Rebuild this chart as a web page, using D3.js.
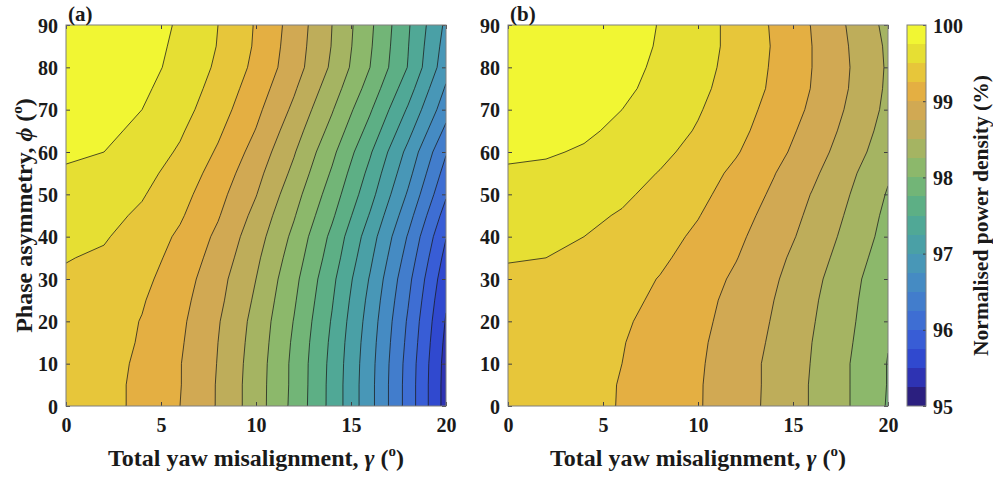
<!DOCTYPE html>
<html>
<head>
<meta charset="utf-8">
<script src="https://cdn.jsdelivr.net/npm/d3@7"></script>
<style>
  body { margin: 0; background: #fff; }
  svg text { font-family: "Liberation Serif", "Times New Roman", serif; font-weight: bold; fill: #1a1a1a; }
</style>
</head>
<body>
<svg id="chart" width="993" height="477"></svg>
<script>
"use strict";

// Grid the contours are built on (degrees).
var yawDeg = [0, 2, 4, 6, 8, 10, 12, 14, 16, 18, 20];
var phaseDeg = [0, 5, 10, 15, 20, 25, 30, 35, 40, 45, 50, 55, 60, 65, 70, 75, 80, 85, 90];

// Normalised power density (%), one row per phase value.
var powerA = [
  [99.36, 99.32, 99.20, 99.00, 98.73, 98.37, 97.93, 97.42, 96.83, 96.15, 95.40],
  [99.36, 99.32, 99.20, 99.01, 98.73, 98.37, 97.94, 97.42, 96.83, 96.15, 95.40],
  [99.37, 99.33, 99.21, 99.01, 98.74, 98.38, 97.94, 97.43, 96.84, 96.16, 95.41],
  [99.38, 99.34, 99.23, 99.03, 98.75, 98.40, 97.96, 97.45, 96.86, 96.19, 95.44],
  [99.40, 99.36, 99.24, 99.05, 98.77, 98.42, 97.99, 97.48, 96.89, 96.22, 95.48],
  [99.43, 99.39, 99.27, 99.08, 98.81, 98.46, 98.03, 97.52, 96.93, 96.27, 95.53],
  [99.47, 99.43, 99.31, 99.12, 98.84, 98.50, 98.07, 97.56, 96.98, 96.32, 95.59],
  [99.51, 99.47, 99.36, 99.16, 98.90, 98.55, 98.13, 97.63, 97.05, 96.40, 95.67],
  [99.56, 99.52, 99.40, 99.21, 98.95, 98.61, 98.19, 97.69, 97.12, 96.48, 95.76],
  [99.61, 99.57, 99.46, 99.28, 99.02, 98.68, 98.27, 97.79, 97.23, 96.60, 95.89],
  [99.67, 99.63, 99.52, 99.34, 99.08, 98.76, 98.35, 97.88, 97.34, 96.72, 96.03],
  [99.72, 99.69, 99.58, 99.40, 99.15, 98.83, 98.44, 97.97, 97.43, 96.83, 96.15],
  [99.79, 99.75, 99.64, 99.47, 99.22, 98.91, 98.52, 98.06, 97.53, 96.93, 96.27],
  [99.84, 99.80, 99.70, 99.53, 99.29, 98.99, 98.61, 98.17, 97.66, 97.08, 96.44],
  [99.88, 99.85, 99.75, 99.59, 99.36, 99.06, 98.70, 98.27, 97.78, 97.22, 96.60],
  [99.92, 99.89, 99.79, 99.64, 99.41, 99.13, 98.78, 98.37, 97.90, 97.36, 96.72],
  [99.95, 99.92, 99.83, 99.68, 99.46, 99.19, 98.86, 98.46, 98.00, 97.49, 96.85],
  [99.98, 99.95, 99.85, 99.70, 99.49, 99.22, 98.88, 98.49, 98.03, 97.51, 96.90],
  [99.99, 99.96, 99.87, 99.72, 99.50, 99.23, 98.90, 98.50, 98.05, 97.53, 96.95]
];

var powerB = [
  [99.36, 99.35, 99.30, 99.24, 99.14, 99.02, 98.86, 98.69, 98.48, 98.25, 97.98],
  [99.36, 99.35, 99.31, 99.24, 99.14, 99.02, 98.87, 98.69, 98.48, 98.25, 97.99],
  [99.37, 99.36, 99.31, 99.25, 99.15, 99.03, 98.87, 98.69, 98.49, 98.25, 97.99],
  [99.38, 99.37, 99.33, 99.26, 99.16, 99.04, 98.89, 98.71, 98.50, 98.27, 98.01],
  [99.40, 99.39, 99.35, 99.28, 99.18, 99.06, 98.91, 98.73, 98.52, 98.29, 98.03],
  [99.43, 99.42, 99.37, 99.31, 99.21, 99.08, 98.93, 98.75, 98.54, 98.31, 98.04],
  [99.47, 99.45, 99.41, 99.34, 99.24, 99.12, 98.96, 98.78, 98.57, 98.33, 98.07],
  [99.51, 99.50, 99.45, 99.38, 99.29, 99.16, 99.01, 98.82, 98.61, 98.38, 98.11],
  [99.56, 99.54, 99.50, 99.43, 99.33, 99.21, 99.05, 98.87, 98.66, 98.42, 98.16],
  [99.61, 99.60, 99.55, 99.48, 99.38, 99.26, 99.10, 98.91, 98.70, 98.46, 98.19],
  [99.67, 99.65, 99.61, 99.54, 99.43, 99.31, 99.15, 98.96, 98.74, 98.50, 98.23],
  [99.72, 99.71, 99.66, 99.59, 99.49, 99.36, 99.20, 99.01, 98.80, 98.55, 98.28],
  [99.79, 99.77, 99.73, 99.66, 99.55, 99.43, 99.27, 99.08, 98.86, 98.62, 98.35],
  [99.84, 99.82, 99.78, 99.71, 99.61, 99.48, 99.32, 99.13, 98.91, 98.67, 98.40],
  [99.88, 99.87, 99.82, 99.75, 99.65, 99.52, 99.36, 99.17, 98.96, 98.71, 98.44],
  [99.92, 99.91, 99.86, 99.79, 99.69, 99.56, 99.39, 99.21, 98.99, 98.74, 98.46],
  [99.95, 99.94, 99.89, 99.82, 99.71, 99.58, 99.42, 99.22, 99.00, 98.75, 98.47],
  [99.98, 99.96, 99.91, 99.84, 99.73, 99.60, 99.43, 99.23, 99.00, 98.74, 98.46],
  [99.99, 99.97, 99.93, 99.85, 99.74, 99.60, 99.43, 99.22, 98.99, 98.72, 98.43]
];

// Contour levels (lower edge of each filled band) and their colours.
var levels = [95, 95.25, 95.5, 95.75, 96, 96.25, 96.5, 96.75, 97, 97.25,
              97.5, 97.75, 98, 98.25, 98.5, 98.75, 99, 99.25, 99.5, 99.75];
var bandColours = ["#2b1f7f", "#2e33b3", "#3049cf", "#385dd6", "#3e6ed3", "#427dcc",
                   "#458bc3", "#4897b7", "#4aa0a6", "#50a896", "#5daf85", "#72b577",
                   "#8cb86b", "#a5b462", "#bead5a", "#d1a953", "#e4af42", "#e7c63a",
                   "#e6df33", "#f1f633"];

var xTicks = [0, 5, 10, 15, 20];
var yTicks = [0, 10, 20, 30, 40, 50, 60, 70, 80, 90];
var cbTicks = [95, 96, 97, 98, 99, 100];

var svg = d3.select("#chart");
var plotTop = 25, plotBottom = 406;
var frameColour = "#7f7f7f";

var colour = d3.scaleThreshold().domain(levels.slice(1)).range(bandColours);
var y = d3.scaleLinear().domain([0, 90]).range([plotBottom, plotTop]);

var panels = [
  { id: "a", left: 66, right: 446, values: powerA, label: "(a)" },
  { id: "b", left: 508, right: 888, values: powerB, label: "(b)" }
];

panels.forEach(drawPanel);
drawColourbar();

// Title with a greek symbol and a superscript "o" for degrees.
function degreeTitle(sel, before, greek) {
  sel.append("tspan").text(before);
  sel.append("tspan").attr("font-style", "italic").text(greek);
  sel.append("tspan").text(" (");
  sel.append("tspan").attr("font-size", "15px").attr("dy", -10).text("o");
  sel.append("tspan").attr("dy", 10).text(")");
}

function drawPanel(p) {
  var x = d3.scaleLinear().domain([0, 20]).range([p.left, p.right]);
  var g = svg.append("g").attr("class", "panel-" + p.id);

  var clipId = "clip-" + p.id;
  svg.append("clipPath").attr("id", clipId).append("rect")
    .attr("x", p.left).attr("y", plotTop)
    .attr("width", p.right - p.left).attr("height", plotBottom - plotTop);

  // d3.contours puts grid value i at i + 0.5, so map back to degrees here.
  var nx = yawDeg.length, ny = phaseDeg.length;
  var stepX = yawDeg[1] - yawDeg[0], stepY = phaseDeg[1] - phaseDeg[0];
  var flat = [].concat.apply([], p.values);
  var bands = d3.contours().size([nx, ny]).thresholds(levels)(flat);
  var path = d3.geoPath(d3.geoTransform({
    point: function(cx, cy) {
      this.stream.point(x(yawDeg[0] + (cx - 0.5) * stepX), y(phaseDeg[0] + (cy - 0.5) * stepY));
    }
  }));

  var body = g.append("g").attr("clip-path", "url(#" + clipId + ")");
  body.selectAll("path.band").data(bands).join("path")
    .attr("class", "band")
    .attr("d", path)
    .attr("fill", function(d) { return colour(d.value); });
  body.selectAll("path.iso").data(bands.filter(function(d) { return d.value > levels[0]; })).join("path")
    .attr("class", "iso")
    .attr("d", path)
    .attr("fill", "none")
    .attr("stroke", "#1a1a1a")
    .attr("stroke-width", 0.75)
    .attr("stroke-linejoin", "round");

  // axes, ticks point inwards on all four sides
  var tick = 4;
  var bottom = g.append("g").attr("transform", "translate(0," + plotBottom + ")")
    .call(d3.axisBottom(x).tickValues(xTicks).tickSizeInner(-tick).tickSizeOuter(0).tickPadding(12));
  var left = g.append("g").attr("transform", "translate(" + p.left + ",0)")
    .call(d3.axisLeft(y).tickValues(yTicks).tickSizeInner(-tick).tickSizeOuter(0).tickPadding(8));
  var topAx = g.append("g").attr("transform", "translate(0," + plotTop + ")")
    .call(d3.axisTop(x).tickValues(xTicks).tickSizeInner(-tick).tickSizeOuter(0).tickFormat(""));
  var rightAx = g.append("g").attr("transform", "translate(" + p.right + ",0)")
    .call(d3.axisRight(y).tickValues(yTicks).tickSizeInner(-tick).tickSizeOuter(0).tickFormat(""));

  [bottom, left, topAx, rightAx].forEach(function(a) {
    a.select(".domain").remove();
    a.selectAll(".tick line").attr("stroke", "#404040");
    a.selectAll(".tick text").style("font-size", "20px").attr("fill", "#1a1a1a");
  });
  left.selectAll(".tick text").attr("dy", "0.35em");

  g.append("rect")
    .attr("x", p.left).attr("y", plotTop)
    .attr("width", p.right - p.left).attr("height", plotBottom - plotTop)
    .attr("fill", "none").attr("stroke", frameColour).attr("stroke-width", 1);

  g.append("text").attr("x", p.left + 2).attr("y", 21)
    .style("font-size", "21px").text(p.label);

  var xt = g.append("text")
    .attr("x", (p.left + p.right) / 2).attr("y", 466)
    .attr("text-anchor", "middle").style("font-size", "24px");
  degreeTitle(xt, "Total yaw misalignment, ", "\u03b3");

  if (p.id === "a") {
    var yt = g.append("text")
      .attr("transform", "translate(32," + ((plotTop + plotBottom) / 2) + ") rotate(-90)")
      .attr("text-anchor", "middle").style("font-size", "24px");
    degreeTitle(yt, "Phase asymmetry, ", "\u03d5");
  }
}

function drawColourbar() {
  var cbLeft = 907, cbRight = 926;
  var step = levels[1] - levels[0];
  var yc = d3.scaleLinear().domain([95, 100]).range([plotBottom, plotTop]);
  var g = svg.append("g").attr("class", "colourbar");

  g.selectAll("rect.swatch").data(levels).join("rect")
    .attr("class", "swatch")
    .attr("x", cbLeft).attr("width", cbRight - cbLeft)
    .attr("y", function(d) { return yc(d + step); })
    .attr("height", function(d) { return yc(d) - yc(d + step); })
    .attr("fill", function(d) { return colour(d); })
    .attr("shape-rendering", "crispEdges");

  var ax = g.append("g").attr("transform", "translate(" + cbRight + ",0)")
    .call(d3.axisRight(yc).tickValues(cbTicks).tickFormat(d3.format("d"))
      .tickSizeInner(-3).tickSizeOuter(0).tickPadding(7));
  ax.select(".domain").remove();
  ax.selectAll(".tick line").attr("stroke", "#404040");
  ax.selectAll(".tick text").style("font-size", "20px").attr("dy", "0.35em").attr("fill", "#1a1a1a");

  g.append("rect")
    .attr("x", cbLeft).attr("y", plotTop)
    .attr("width", cbRight - cbLeft).attr("height", plotBottom - plotTop)
    .attr("fill", "none").attr("stroke", frameColour).attr("stroke-width", 1);

  g.append("text")
    .attr("transform", "translate(988," + ((plotTop + plotBottom) / 2) + ") rotate(-90)")
    .attr("text-anchor", "middle").style("font-size", "21.5px")
    .text("Normalised power density (%)");
}
</script>
</body>
</html>
